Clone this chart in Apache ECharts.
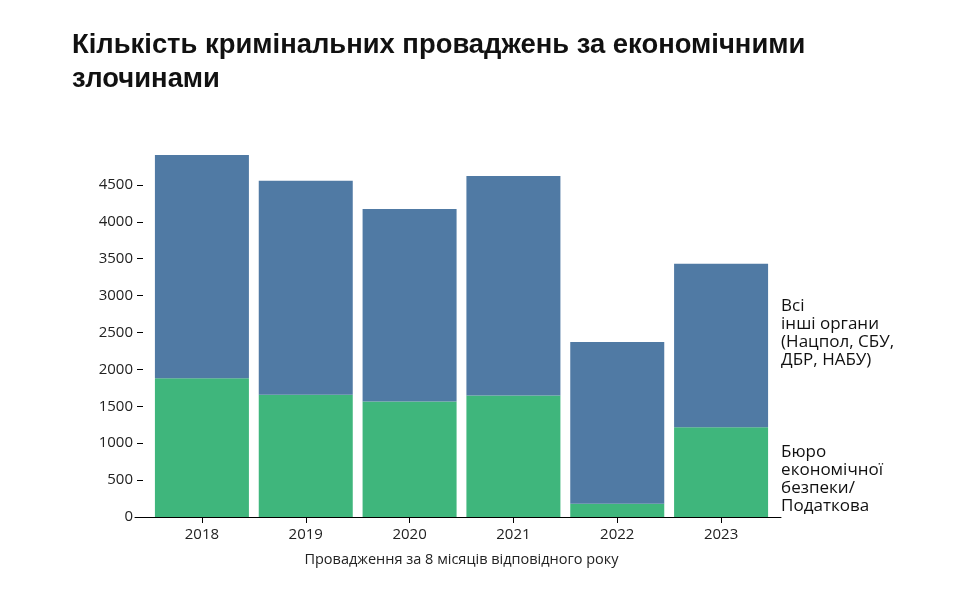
<!DOCTYPE html>
<html>
<head>
<meta charset="utf-8">
<script src="https://cdn.jsdelivr.net/npm/echarts@6/dist/echarts.min.js"></script>
<style>
html,body{margin:0;padding:0;background:#fff;}
#chart{width:956px;height:592px;}
</style>
</head>
<body>
<div id="chart"></div>
<script>
const categories = ['2018', '2019', '2020', '2021', '2022', '2023'];
const bureauValues = [1880, 1655, 1565, 1645, 180, 1215];
const otherValues = [3025, 2900, 2610, 2975, 2190, 2215];
const yTickValues = [0, 500, 1000, 1500, 2000, 2500, 3000, 3500, 4000, 4500];
const bureauName = 'Бюро\nекономічної\nбезпеки/\nПодаткова';
const otherName = 'Всі\nінші органи\n(Нацпол, СБУ,\nДБР, НАБУ)';

const labelFont = {fontFamily: '"Open Sans", "Noto Sans", sans-serif', fontSize: 17, color: '#111', lineHeight: 18};

function withEndLabel(values, name, offset) {
  return values.map((v, i) => i === values.length - 1 ? {
    value: v,
    label: Object.assign({show: true, position: 'right', distance: 13, offset: offset,
      align: 'left', formatter: name}, labelFont)
  } : v);
}

const chart = echarts.init(document.getElementById('chart'), null, {renderer: 'canvas'});
chart.setOption({
  animation: false,
  backgroundColor: '#fff',
  title: {
    text: 'Кількість кримінальних проваджень за економічними\nзлочинами',
    left: 67, top: 23,
    textStyle: {fontFamily: '"Liberation Sans Narrow", "Liberation Sans", sans-serif', fontWeight: 'bold', fontSize: 27.4, lineHeight: 34, color: '#111'}
  },
  grid: [
    {left: 150, right: 183, top: 148, bottom: 75},
    {left: 135, right: 175, top: 148, bottom: 75}
  ],
  xAxis: [{
    type: 'category',
    data: categories,
    gridIndex: 0,
    axisLine: {show: false},
    axisTick: {show: true, alignWithLabel: true, length: 6, lineStyle: {color: '#000'}},
    axisLabel: {margin: 10, fontFamily: '"Open Sans", "Noto Sans", sans-serif', fontSize: 15, color: '#222'},
    name: 'Провадження за 8 місяців відповідного року',
    nameLocation: 'middle',
    nameGap: 35,
    nameTextStyle: {fontFamily: '"Open Sans", "Noto Sans", sans-serif', fontSize: 14.5, color: '#222'}
  }, {
    type: 'value', gridIndex: 1, min: 0, max: 1,
    axisLine: {show: true, lineStyle: {color: '#000', width: 1}},
    axisTick: {show: false}, axisLabel: {show: false}, splitLine: {show: false}
  }],
  yAxis: [{
    type: 'value',
    gridIndex: 0,
    min: 0, max: 5000, interval: 500,
    offset: 7,
    axisLine: {show: false},
    axisTick: {show: true, length: 6, lineStyle: {color: '#000'}, customValues: yTickValues},
    axisLabel: {margin: 10, fontFamily: '"Open Sans", "Noto Sans", sans-serif', fontSize: 15, color: '#222',
      customValues: yTickValues, formatter: v => String(v)},
    splitLine: {show: false}
  }, {
    type: 'value', gridIndex: 1, min: 0, max: 1, show: false
  }],
  series: [{
    name: bureauName,
    type: 'bar',
    stack: 'total',
    xAxisIndex: 0, yAxisIndex: 0,
    barWidth: 94,
    itemStyle: {color: '#3fb67c'},
    data: withEndLabel(bureauValues, bureauName, [0, 6.5])
  }, {
    name: otherName,
    type: 'bar',
    stack: 'total',
    xAxisIndex: 0, yAxisIndex: 0,
    barWidth: 94,
    itemStyle: {color: '#507aa4'},
    data: withEndLabel(otherValues, otherName, [0, -12.5])
  }]
});
</script>
</body>
</html>
